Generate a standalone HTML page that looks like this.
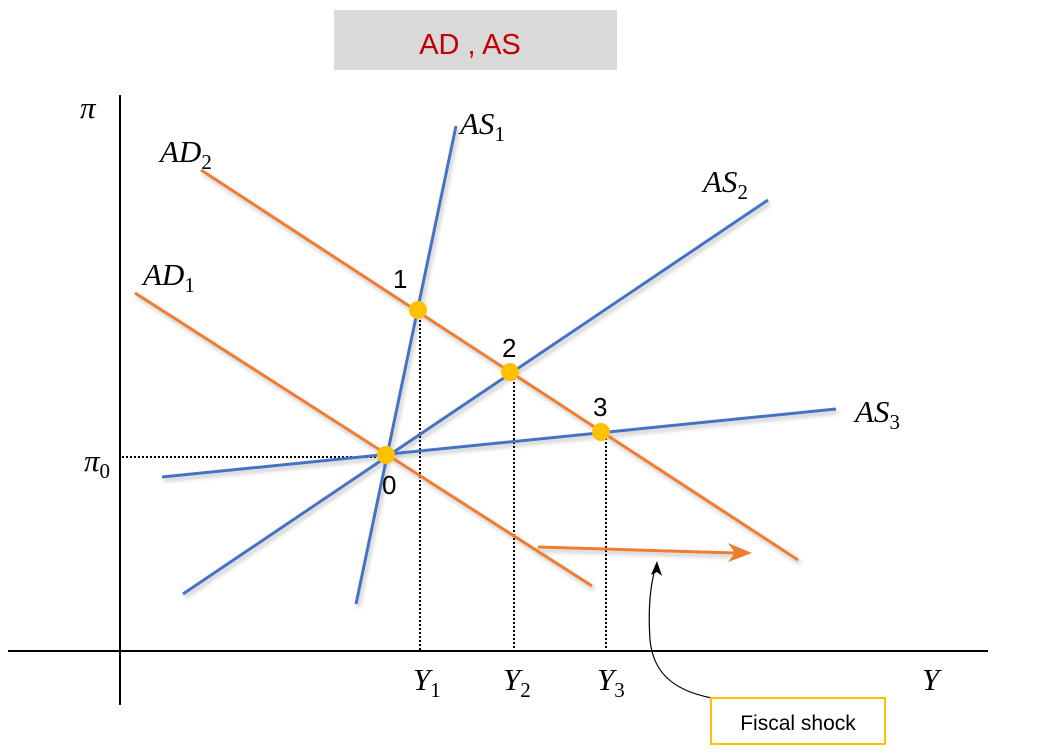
<!DOCTYPE html>
<html><head><meta charset="utf-8"><style>
html,body{margin:0;padding:0;background:#fff;}
svg{display:block;}
.m{font-family:"Liberation Serif",serif;font-style:italic;font-size:31px;fill:#000;}
.s{font-size:21px;font-style:normal;}
.n{font-family:"Liberation Sans",sans-serif;font-size:26px;fill:#000;}
</style></head><body>
<svg width="1044" height="753" viewBox="0 0 1044 753" xmlns="http://www.w3.org/2000/svg">
<defs>
<filter id="sh" x="-10%" y="-10%" width="120%" height="120%"><feDropShadow dx="2" dy="3" stdDeviation="2" flood-color="#000" flood-opacity="0.25"/></filter>
</defs>
<rect x="334" y="10" width="283" height="60" fill="#d9d9d9"/>
<text x="470" y="54" text-anchor="middle" font-family="Liberation Sans, sans-serif" font-size="29" fill="#c00000">AD , AS</text>
<line x1="120" y1="95" x2="120" y2="705" stroke="#000" stroke-width="2"/>
<line x1="8" y1="651" x2="988" y2="651" stroke="#000" stroke-width="2"/>
<g stroke="#000" stroke-width="2" stroke-dasharray="2,2">
<line x1="122" y1="457" x2="386" y2="457"/>
<line x1="420" y1="312" x2="420" y2="650"/>
<line x1="514" y1="374" x2="514" y2="650"/>
<line x1="606" y1="434" x2="606" y2="650"/>
</g>
<g stroke-width="3" filter="url(#sh)">
<line x1="135" y1="293" x2="592" y2="586" stroke="#ed7d31"/>
<line x1="201" y1="170" x2="798" y2="560" stroke="#ed7d31"/>
<line x1="356" y1="604" x2="456" y2="126" stroke="#4472c4"/>
<line x1="183" y1="594" x2="768" y2="200" stroke="#4472c4"/>
<line x1="162" y1="477" x2="836" y2="409" stroke="#4472c4"/>
<line x1="538" y1="547" x2="735" y2="553" stroke="#ed7d31"/>
</g>
<path d="M728,543 L752,553 L728,562 L735,553 Z" fill="#ed7d31"/>
<g fill="#ffc000">
<circle cx="386" cy="455" r="9"/><circle cx="418" cy="310" r="9"/><circle cx="510" cy="372" r="9"/><circle cx="601" cy="432" r="9"/>
</g>
<text class="n" x="393" y="288">1</text>
<text class="n" x="502" y="357">2</text>
<text class="n" x="593" y="416">3</text>
<text class="n" x="382" y="494">0</text>
<text class="m" x="460" y="134">AS<tspan class="s" dy="7">1</tspan></text>
<text class="m" x="160" y="162">AD<tspan class="s" dy="7">2</tspan></text>
<text class="m" x="703" y="192">AS<tspan class="s" dy="7">2</tspan></text>
<text class="m" x="143" y="285">AD<tspan class="s" dy="7">1</tspan></text>
<text class="m" x="855" y="422">AS<tspan class="s" dy="7">3</tspan></text>
<text class="m" x="80" y="118">π</text>
<text class="m" x="84" y="471">π<tspan class="s" dy="7">0</tspan></text>
<text class="m" x="413" y="690">Y<tspan class="s" dy="7">1</tspan></text>
<text class="m" x="503" y="690">Y<tspan class="s" dy="7">2</tspan></text>
<text class="m" x="597" y="690">Y<tspan class="s" dy="7">3</tspan></text>
<text class="m" x="922" y="690">Y</text>
<path d="M712,698 C670,690 653,670 650,640 C648,610 650,585 656,566" fill="none" stroke="#000" stroke-width="1.2"/>
<path d="M651,575 L657,561 L662,576 L657,572 Z" fill="#000"/>
<rect x="711" y="698" width="174" height="46" fill="#fff" stroke="#ffc000" stroke-width="2"/>
<text x="798" y="730" text-anchor="middle" font-family="Liberation Sans, sans-serif" font-size="21" fill="#000">Fiscal shock</text>
</svg>
</body></html>
